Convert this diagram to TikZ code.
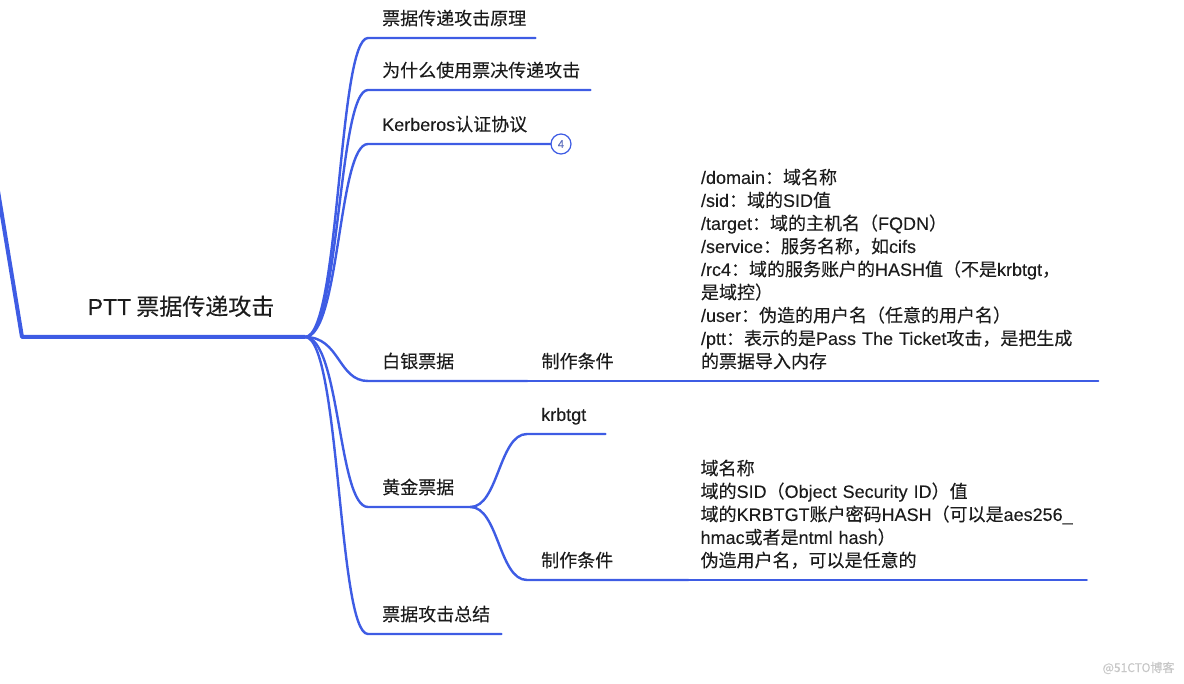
\documentclass[tikz,border=0pt]{standalone}
\usepackage{fontspec}
\setmainfont{Noto Sans CJK SC}[FakeBold=0.2]
\newfontfamily\lsansfont{Liberation Sans}[FakeBold=0.15]
\newcommand{\lsans}[1]{{\lsansfont #1}}
\definecolor{mapblue}{RGB}{62,92,228}
\definecolor{mapink}{RGB}{28,28,28}

\begin{document}
\begin{tikzpicture}[x=1pt,y=-1pt,
    every node/.style={text=mapink},
    trunk/.style={draw=mapblue,line width=4pt,line join=round},
    branch/.style={draw=mapblue,line width=2.4pt,line cap=round},
    topic/.style={anchor=south west,inner xsep=14pt,inner ysep=6pt,align=left,
        font=\fontsize{18}{23}\selectfont,execute at end node=\strut},
    info/.style={topic,inner xsep=12pt},
    fold/.style={circle,draw=mapblue,line width=1.2pt,inner sep=0pt,minimum size=20pt,
        fill=white,text=mapblue!60!gray,font=\lsansfont\fontsize{11}{11}\selectfont}]
    \useasboundingbox (0,0) rectangle (1184,684);
    \coordinate (rootin) at (-3,185);
    \coordinate (rootleft) at (22,337);
    \coordinate (hub) at (305,337);
    \node[anchor=base,font=\fontsize{23}{23}\selectfont] (root) at (181,315) {\lsans{PTT} 票据传递攻击};
    \node[topic,text width=139pt] (t1) at (368,38) {票据传递攻击原理};
    \node[topic,text width=194pt] (t2) at (368,90) {为什么使用票决传递攻击};
    \node[topic,text width=154pt] (t3) at (368,144) {\lsans{Kerberos}认证协议};
    \node[fold,anchor=west] (t3fold) at (t3.south east) {4};
    \node[topic,text width=131pt] (t4) at (368,381) {白银票据};
    \node[topic,text width=133pt] (silvercond) at (t4.south east) {制作条件};
    \node[info,text width=385pt] (silverinfo) at (silvercond.south east) {\lsans{/domain}：域名称\\
        \lsans{/sid}：域的\lsans{SID}值\\
        \lsans{/target}：域的主机名（\lsans{FQDN}）\\
        \lsans{/service}：服务名称，如\lsans{cifs}\\
        \mbox{\lsans{/rc4}：域的服务账户的\lsans{HASH}值（不是\lsans{krbtgt}，}\\
        是域控）\\
        \lsans{/user}：伪造的用户名（任意的用户名）\\
        \mbox{\lsans{/ptt}：表示的是\lsans{Pass The Ticket}攻击，是把生成}\\
        的票据导入内存};
    \node[topic,text width=74pt] (t5) at (368,507) {黄金票据};
    \node[topic,text width=50pt] (goldkey) at (527,434) {\lsans{krbtgt}};
    \node[topic,text width=133pt] (goldcond) at (527,580) {制作条件};
    \node[info,text width=374pt] (goldinfo) at (goldcond.south east) {域名称\\
        域的\lsans{SID}（\lsans{Object Security ID}）值\\
        \mbox{域的\lsans{KRBTGT}账户密码\lsans{HASH}（可以是\lsans{aes256\_}}\\
        \lsans{hmac}或者是\lsans{ntml hash}）\\
        伪造用户名，可以是任意的};
    \node[topic,text width=105pt] (t6) at (368,634) {票据攻击总结};
    \node[anchor=east,text=black!22,font=\fontsize{12}{12}\selectfont] (mark) at (1178,668) {@51CTO博客};
    \draw[trunk] (rootin) -- (rootleft) -- (hub);
    \foreach \t in {t1,t2,t3,t4,t5,t6}
        \draw[branch] (hub) .. controls +(35,0) and +(-30,0) .. (\t.south west) -- (\t.south east);
    \draw[branch] (t4.south east) -- (silvercond.south east) -- (silverinfo.south east);
    \foreach \k in {goldkey,goldcond}
        \draw[branch] (t5.south east) .. controls +(28,0) and +(-28,0) .. (\k.south west) -- (\k.south east);
    \draw[branch] (goldcond.south east) -- (goldinfo.south east);
\end{tikzpicture}
\end{document}
